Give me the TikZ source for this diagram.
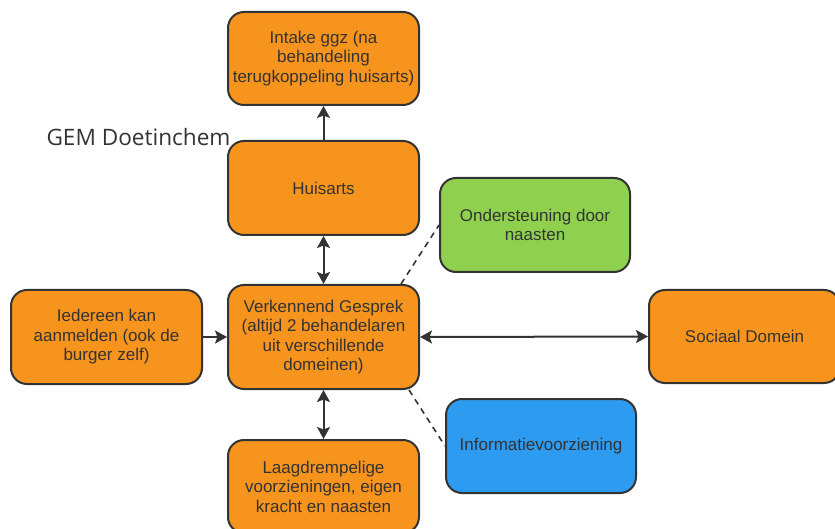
\documentclass[tikz,border=0pt]{standalone}
\usepackage{fontspec}
\setmainfont{Liberation Sans}
\newfontfamily\titlefont{Open Sans}
\usepackage{xcolor}
\usetikzlibrary{calc}
\usetikzlibrary{arrows.meta}
\definecolor{boxorange}{HTML}{F7941D}
\definecolor{boxgreen}{HTML}{8FD14F}
\definecolor{boxblue}{HTML}{2D9BF0}
\definecolor{ink}{HTML}{333333}

\begin{document}
\begin{tikzpicture}[x=1pt, y=-1pt,
  box/.style = {draw = ink, line width = 2pt, rounded corners = 16pt,
    minimum width = 191pt, minimum height = 93pt, align = center,
    text = ink, font = \fontsize{17}{19.5}\selectfont, inner sep = 2pt},
  link/.style = {draw = ink, line width = 2pt,
    arrows = {-Stealth[length = 12pt, width = 13pt, inset = 2.5pt]}},
  biLink/.style = {link, arrows = {Stealth[length = 12pt, width = 13pt, inset = 2.5pt]-Stealth[length = 12pt, width = 13pt, inset = 2.5pt]}},
  loose/.style = {draw = ink, line width = 1.6pt, dash pattern = on 6pt off 5pt}]
  \useasboundingbox (0,0) rectangle (835,529);

% title
  \node[text = ink, font = \titlefont\fontsize{22.6}{26}\selectfont] (title) at (138.5,137) {GEM Doetinchem};

% main column
  \node[box, fill = boxorange] (intake) at (323.5,58.5)
    {Intake ggz (na\\behandeling\\terugkoppeling huisarts)};
  \node[box, fill = boxorange, minimum height = 94pt] (huisarts) at (323.5,188) {Huisarts};
  \node[box, fill = boxorange, minimum height = 104pt] (verk) at (323.5,337)
    {Verkennend Gesprek\\(altijd 2 behandelaren\\uit verschillende\\domeinen)};
  \node[box, fill = boxorange] (laag) at (323.5,486.5)
    {Laagdrempelige\\voorzieningen, eigen\\kracht en naasten};

% side boxes
  \node[box, fill = boxorange, minimum height = 94pt] (iedereen) at (106.5,337)
    {Iedereen kan\\aanmelden (ook de\\burger zelf)};
  \node[box, fill = boxorange] (sociaal) at (744.5,336.5) {Sociaal Domein};
  \node[box, fill = boxgreen, minimum width = 190pt, minimum height = 94pt] (naasten) at (535,225)
    {Ondersteuning door\\naasten};
  \node[box, fill = boxblue, minimum width = 190pt, minimum height = 94pt] (info) at (541,446)
    {Informatievoorziening};

% arrows
  \draw[link] (huisarts.north) -- (intake.south);
  \draw[biLink] (verk.north) -- (huisarts.south);
  \draw[biLink] (verk.south) -- (laag.north);
  \draw[link] (iedereen.east) -- (verk.west);
  \draw[biLink] (verk.east) -- (sociaal.west);

% dashed links
  \coordinate (verkTop) at ($(verk.north east) + (-19,0)$);
  \coordinate (verkBot) at ($(verk.south east) + (-11,0)$);
  \draw[loose] (verkTop) -- (naasten.west);
  \draw[loose] (verkBot) -- (info.west);

\end{tikzpicture}
\end{document}
